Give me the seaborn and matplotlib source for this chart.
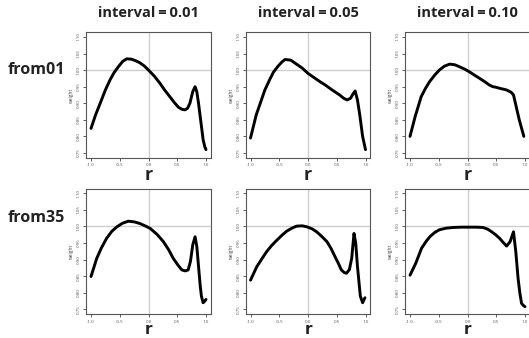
import matplotlib
matplotlib.use("Agg")
import matplotlib.pyplot as plt
import seaborn as sns
import pandas as pd

# ---- data ----
row_labels = ["from01", "from35"]
col_titles = ["interval\u2009=\u20090.01", "interval\u2009=\u20090.05", "interval\u2009=\u20090.10"]
x_ticks = [-1.0, -0.5, 0.0, 0.5, 1.0]
x_tick_labels = ["-1.0", "-0.5", "0.0", "0.5", "1.0"]
y_ticks = [0.75, 0.80, 0.85, 0.90, 0.95, 1.00, 1.05, 1.10]
y_tick_labels = ["0.75", "0.80", "0.85", "0.90", "0.95", "1.00", "1.05", "1.10"]

r_from01_001 = [-1.0, -0.92, -0.84, -0.75, -0.67, -0.6, -0.525, -0.45, -0.38, -0.3, -0.22, -0.15, -0.07, 0.0, 0.1, 0.2, 0.28, 0.37, 0.45, 0.52, 0.58, 0.635, 0.68, 0.72, 0.77, 0.81, 0.84, 0.87, 0.91, 0.95, 0.98, 1.0]
w_from01_001 = [0.824, 0.865, 0.90, 0.94, 0.970, 0.992, 1.010, 1.026, 1.034, 1.033, 1.028, 1.022, 1.012, 1.0, 0.982, 0.96, 0.94, 0.92, 0.902, 0.888, 0.882, 0.880, 0.885, 0.90, 0.935, 0.950, 0.935, 0.90, 0.845, 0.79, 0.768, 0.760]

r_from01_005 = [-1.0, -0.95, -0.9, -0.82, -0.75, -0.67, -0.6, -0.52, -0.45, -0.4, -0.3, -0.2, -0.1, 0.0, 0.1, 0.2, 0.3, 0.42, 0.55, 0.62, 0.68, 0.74, 0.79, 0.82, 0.86, 0.9, 0.95, 1.0]
w_from01_005 = [0.795, 0.83, 0.865, 0.905, 0.94, 0.97, 0.994, 1.012, 1.025, 1.032, 1.03, 1.018, 1.006, 0.99, 0.978, 0.966, 0.955, 0.94, 0.925, 0.915, 0.91, 0.915, 0.93, 0.937, 0.91, 0.865, 0.80, 0.76]

r_from01_010 = [-1.0, -0.91, -0.805, -0.73, -0.66, -0.57, -0.49, -0.4, -0.31, -0.22, -0.14, -0.05, 0.03, 0.12, 0.21, 0.3, 0.38, 0.44, 0.5, 0.56, 0.61, 0.68, 0.76, 0.8, 0.82, 0.86, 0.9, 0.94, 0.98]
w_from01_010 = [0.80, 0.86, 0.92, 0.945, 0.965, 0.985, 1.0, 1.012, 1.018, 1.016, 1.01, 1.003, 0.995, 0.985, 0.975, 0.965, 0.955, 0.95, 0.948, 0.945, 0.943, 0.94, 0.933, 0.925, 0.91, 0.88, 0.85, 0.825, 0.80]

r_from35_001 = [-1.0, -0.9, -0.82, -0.73, -0.64, -0.55, -0.45, -0.35, -0.25, -0.15, -0.06, 0.03, 0.15, 0.26, 0.35, 0.43, 0.51, 0.58, 0.64, 0.69, 0.73, 0.77, 0.81, 0.84, 0.87, 0.9, 0.92, 0.95, 0.98, 1.0]
w_from35_001 = [0.849, 0.904, 0.935, 0.964, 0.985, 0.999, 1.010, 1.016, 1.014, 1.009, 1.002, 0.994, 0.976, 0.954, 0.93, 0.904, 0.884, 0.869, 0.866, 0.869, 0.895, 0.945, 0.969, 0.94, 0.88, 0.82, 0.79, 0.77, 0.775, 0.78]

r_from35_005 = [-1.0, -0.89, -0.8, -0.72, -0.63, -0.54, -0.45, -0.37, -0.28, -0.2, -0.1, -0.02, 0.07, 0.15, 0.24, 0.33, 0.4, 0.47, 0.53, 0.58, 0.63, 0.67, 0.72, 0.76, 0.8, 0.83, 0.86, 0.91, 0.95, 0.99]
w_from35_005 = [0.838, 0.879, 0.903, 0.924, 0.943, 0.959, 0.974, 0.986, 0.995, 1.001, 1.002, 0.999, 0.993, 0.984, 0.970, 0.954, 0.934, 0.909, 0.888, 0.869, 0.861, 0.859, 0.87, 0.904, 0.979, 0.95, 0.88, 0.79, 0.77, 0.785]

r_from35_010 = [-1.0, -0.9, -0.8, -0.72, -0.65, -0.57, -0.49, -0.37, -0.25, -0.1, 0.05, 0.15, 0.27, 0.35, 0.42, 0.49, 0.56, 0.62, 0.68, 0.74, 0.8, 0.84, 0.88, 0.91, 0.94, 0.97, 1.0]
w_from35_010 = [0.853, 0.889, 0.934, 0.955, 0.970, 0.982, 0.99, 0.995, 0.997, 0.998, 0.998, 0.998, 0.997, 0.992, 0.984, 0.975, 0.964, 0.952, 0.941, 0.954, 0.984, 0.924, 0.843, 0.80, 0.768, 0.762, 0.758]

panels = [
    [(r_from01_001, w_from01_001), (r_from01_005, w_from01_005), (r_from01_010, w_from01_010)],
    [(r_from35_001, w_from35_001), (r_from35_005, w_from35_005), (r_from35_010, w_from35_010)],
]

sns.set_theme(style="white")
plt.rcParams["font.family"] = ["Open Sans", "DejaVu Sans"]

W, H = 529, 338
fig = plt.figure(figsize=(W / 100, H / 100), dpi=100)
fig.patch.set_facecolor("white")

col_left_px = [86.4, 245.9, 405.4]
row_bottom_px = [157.6, 314.0]
ax_w_px, ax_h_px = 124.2, 125.3

for i in range(2):
    for j in range(3):
        r, w = panels[i][j]
        left = col_left_px[j] / W
        bottom = (H - row_bottom_px[i]) / H
        ax = fig.add_axes([left, bottom, ax_w_px / W, ax_h_px / H])
        ax.set_xlim(-1.08, 1.08)
        ax.set_ylim(0.736, 1.114)
        ax.axhline(1.0, color="#cfcfcf", lw=1.0, zorder=1)
        ax.axvline(0.0, color="#cfcfcf", lw=1.0, zorder=1)
        df = pd.DataFrame({"r": r, "weight": w})
        sns.lineplot(data=df, x="r", y="weight", ax=ax, sort=False, estimator=None,
                     color="black", lw=2.1, zorder=3)
        ax.set_xticks(x_ticks)
        ax.set_xticklabels(x_tick_labels, fontsize=3.2, color="#555555")
        ax.set_yticks(y_ticks)
        ax.set_yticklabels(y_tick_labels, fontsize=3.2, color="#555555",
                           rotation=90, va="center")
        ax.tick_params(axis="both", length=2.5, width=0.6, color="#444444", pad=1.5,
                       direction="out", bottom=True, left=True)
        for s in ax.spines.values():
            s.set_color("#555555")
            s.set_linewidth(0.8)
        if i == 0:
            ax.set_xlabel("r", fontsize=13, fontweight="bold", labelpad=-1, color="#222222")
        else:
            ax.set_xlabel("r", fontsize=11, fontweight="bold", labelpad=-1,
                          color="#222222", family="DejaVu Sans")
        ax.set_ylabel("weight", fontsize=3.5, labelpad=2, color="#444444")
        ax.grid(False)
        if i == 0:
            fig.text((col_left_px[j] + ax_w_px / 2) / W, 1 - 13 / H, col_titles[j],
                     ha="center", va="center", fontsize=10.5, fontweight="bold", color="#222222")

fig.text(8 / W, 1 - 70 / H, row_labels[0], ha="left", va="center",
         fontsize=11.5, fontweight="bold", color="#222222")
fig.text(8 / W, 1 - 218 / H, row_labels[1], ha="left", va="center",
         fontsize=11.5, fontweight="bold", color="#222222")

fig.savefig("out.png", dpi=100, facecolor="white")
